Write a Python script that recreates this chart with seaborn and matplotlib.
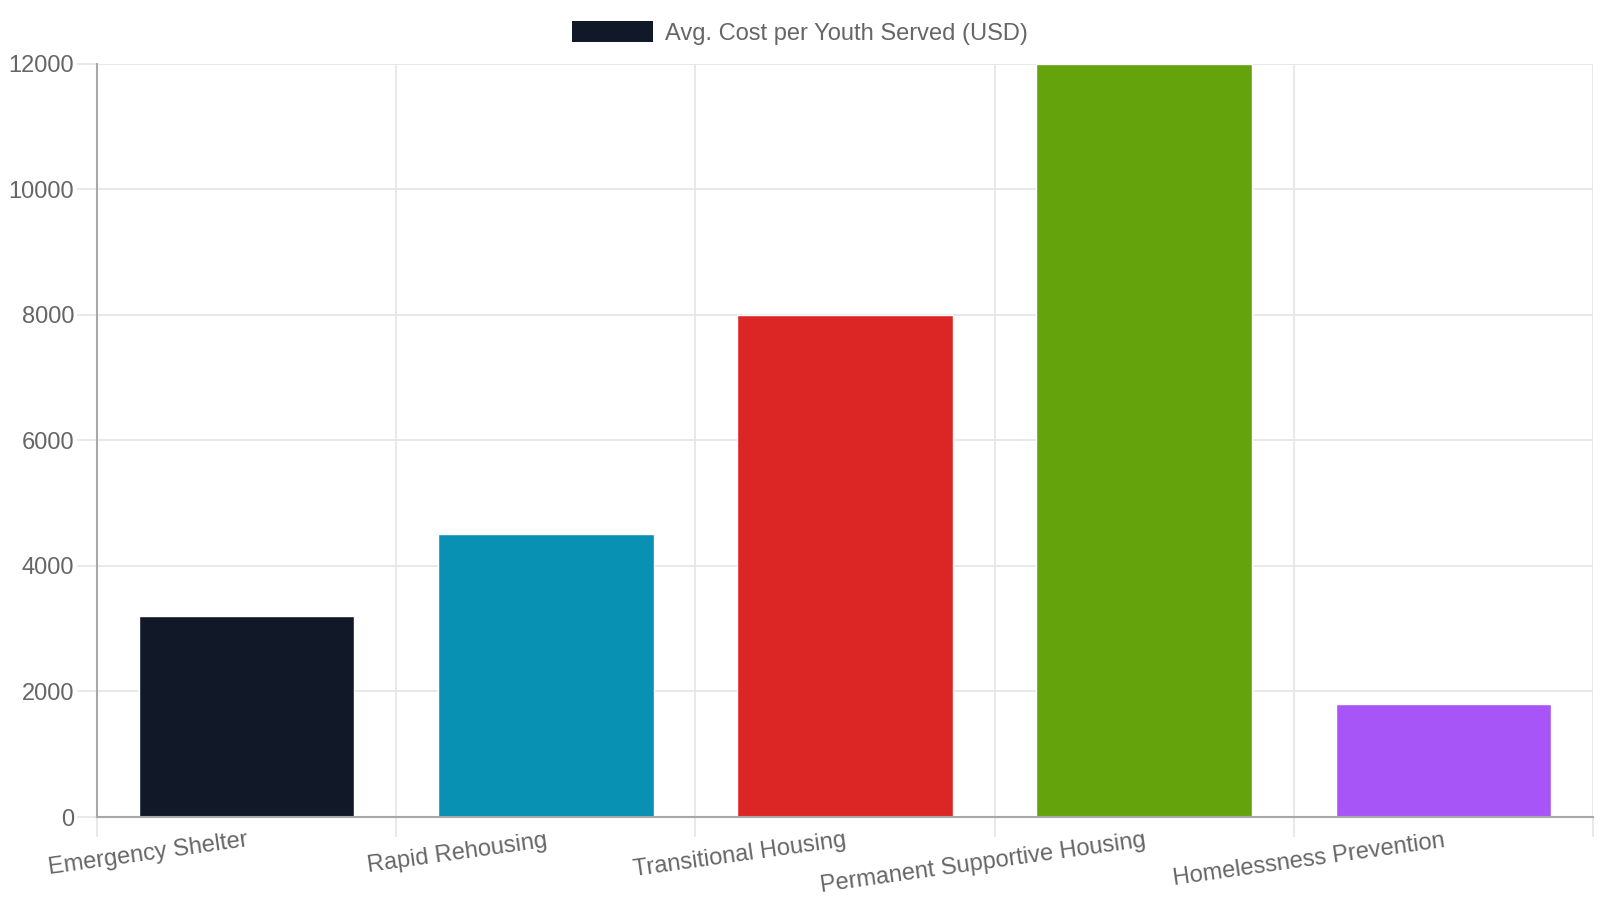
import matplotlib
matplotlib.use("Agg")
import matplotlib.pyplot as plt
import seaborn as sns
import pandas as pd
from matplotlib.patches import Patch

categories = ["Emergency Shelter", "Rapid Rehousing", "Transitional Housing",
              "Permanent Supportive Housing", "Homelessness Prevention"]
values = [3200, 4500, 8000, 12000, 1800]
colors = ["#111827", "#0891b2", "#dc2626", "#65a30d", "#a855f7"]
series_label = "Avg. Cost per Youth Served (USD)"
y_ticks = [0, 2000, 4000, 6000, 8000, 10000, 12000]

sns.set_theme(style="white")
plt.rcParams["font.family"] = ["Liberation Sans", "DejaVu Sans"]

df = pd.DataFrame({"category": categories, "value": values})

fig = plt.figure(figsize=(16, 9), dpi=100)
L, R, T, B = 97, 1593, 63.5, 817
ax = fig.add_axes([L / 1600, 1 - B / 900, (R - L) / 1600, (B - T) / 900])

sns.barplot(data=df, x="category", y="value", hue="category", palette=colors,
            legend=False, width=0.72, saturation=1, ax=ax, zorder=3)

ax.set_xlim(-0.5, len(categories) - 0.5)
ax.set_ylim(0, 12000)
ax.set_yticks(y_ticks)
ax.set_yticklabels([str(v) for v in y_ticks])
ax.set_xlabel("")
ax.set_ylabel("")

grid_c = "#e5e5e5"
axis_c = "#a8a8a8"
text_c = "#666666"
fs = 17

# vertical gridlines at category boundaries
ax.set_xticks([i - 0.5 for i in range(len(categories) + 1)], minor=True)
ax.grid(True, which="minor", axis="x", color=grid_c, linewidth=1.2, zorder=0)
ax.grid(True, which="major", axis="y", color=grid_c, linewidth=1.2, zorder=0)
ax.grid(False, which="major", axis="x")
ax.set_axisbelow(True)

ax.tick_params(axis="x", which="major", length=0, pad=9, labelsize=fs, labelcolor=text_c)
ax.tick_params(axis="x", which="minor", length=14.5, width=1.2, color=grid_c, bottom=True)
ax.tick_params(axis="y", which="major", length=14.5, width=1.2, color=grid_c, left=True,
               labelsize=fs, labelcolor=text_c, pad=2)

for lab in ax.get_xticklabels():
    lab.set_rotation(8)
    lab.set_ha("right")
    lab.set_va("top")
    lab.set_rotation_mode("anchor")

for s in ["top", "right"]:
    ax.spines[s].set_visible(False)
for s in ["left", "bottom"]:
    ax.spines[s].set_color(axis_c)
    ax.spines[s].set_linewidth(1.5)
    ax.spines[s].set_zorder(4)

handle = Patch(facecolor=colors[0], edgecolor="none")
fig.legend(handles=[handle], labels=[series_label], loc="center",
           bbox_to_anchor=(0.5, 1 - 33 / 900), frameon=False, fontsize=fs,
           labelcolor=text_c, handlelength=3.4, handleheight=1.0, handletextpad=0.52)

fig.savefig("out.png", dpi=100)
